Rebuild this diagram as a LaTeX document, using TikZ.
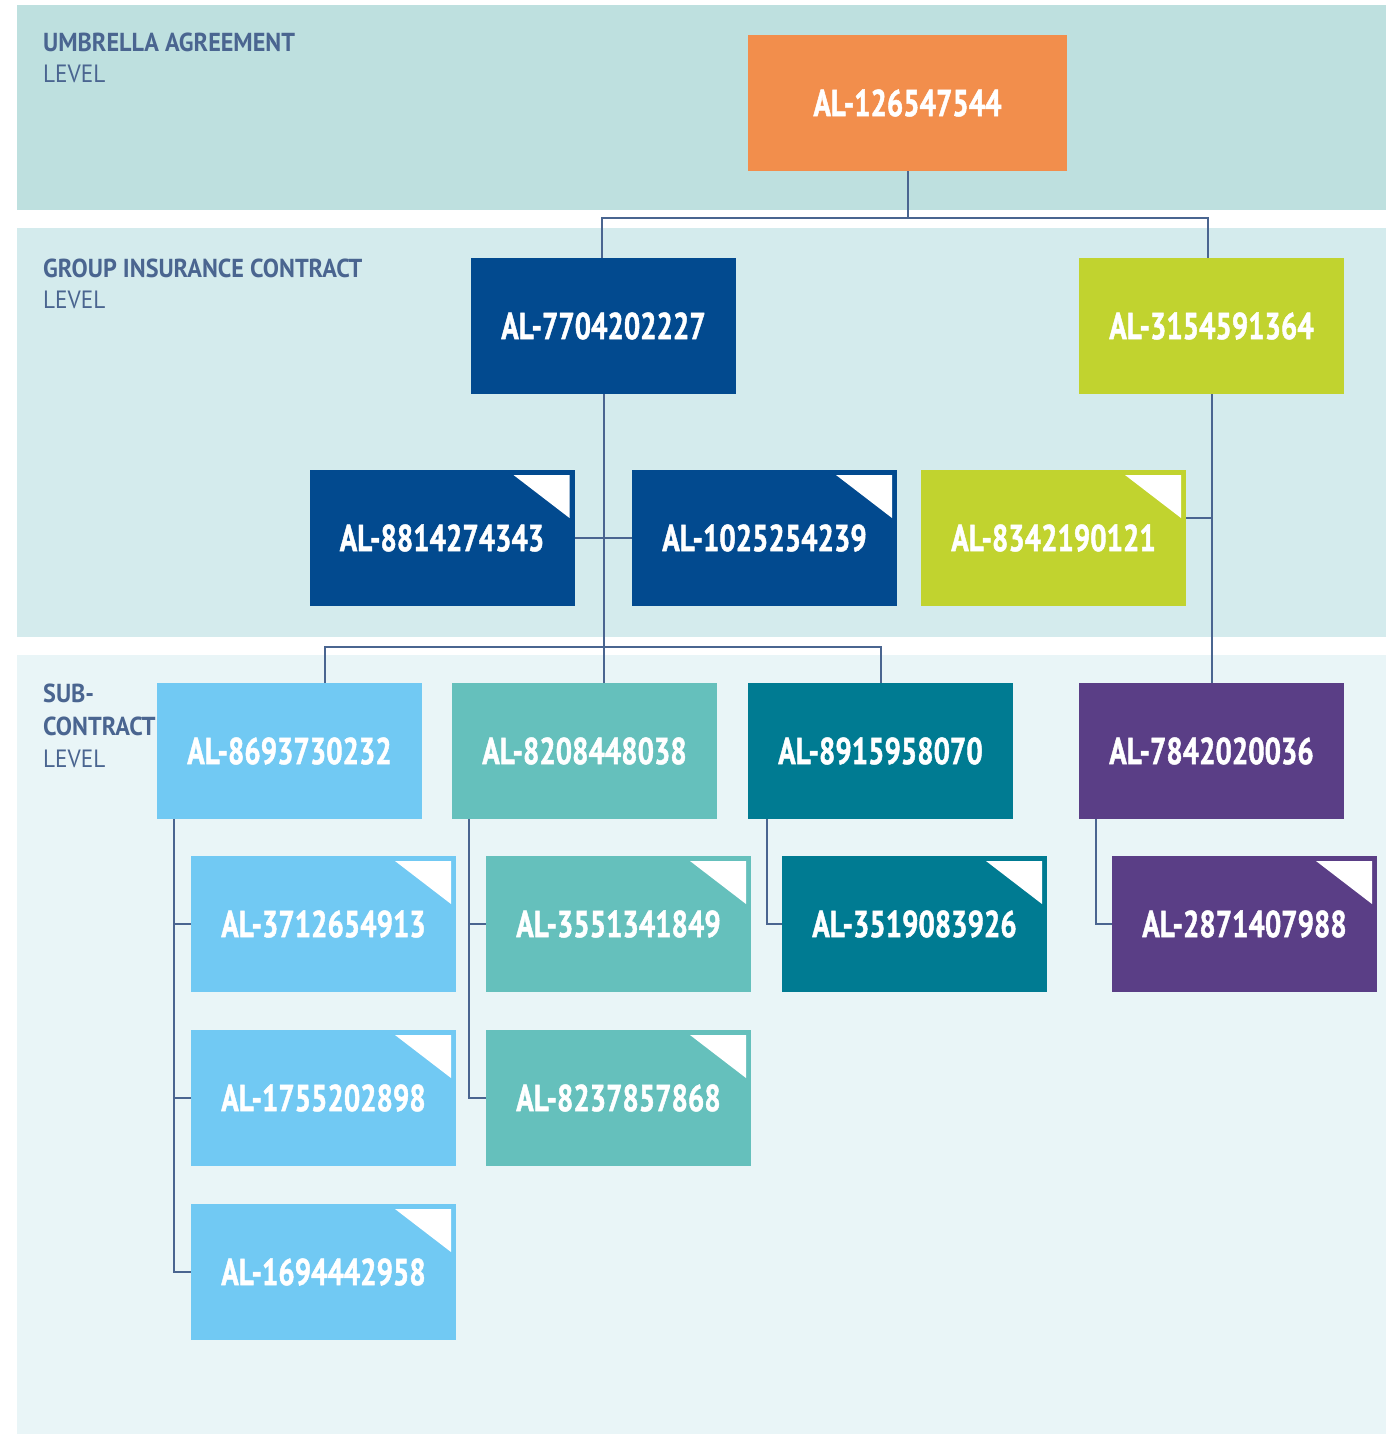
\documentclass[tikz,border=0pt]{standalone}
\usepackage{fontspec}
\setmainfont{PT Sans}
\newfontfamily\nodefont[FakeStretch=0.77,FakeBold=1.2]{PT Sans}
\newfontfamily\lblfont[FakeStretch=0.93]{PT Sans}
\definecolor{bandA}{HTML}{BEE0DF}
\definecolor{bandB}{HTML}{D4EBED}
\definecolor{bandC}{HTML}{E9F5F7}
\definecolor{corange}{HTML}{F28E4C}
\definecolor{cdblue}{HTML}{024A8F}
\definecolor{clime}{HTML}{C1D32F}
\definecolor{clblue}{HTML}{71C9F3}
\definecolor{cteal}{HTML}{65C0BC}
\definecolor{cdteal}{HTML}{007B92}
\definecolor{cpurple}{HTML}{5A3E86}
\definecolor{cline}{HTML}{4A6590}
\begin{document}
\begin{tikzpicture}[x=1pt,y=-1pt,
  box/.style={minimum width=265pt, minimum height=136pt, inner sep=0pt, text=white,
    font=\nodefont\bfseries\fontsize{37.5}{37.5}\selectfont},
  folded/.style={path picture={\fill[white]
    ([xshift=-61pt,yshift=-5pt]path picture bounding box.north east) --
    ([xshift=-5pt,yshift=-5pt]path picture bounding box.north east) --
    ([xshift=-5pt,yshift=-48pt]path picture bounding box.north east) -- cycle;}},
  conn/.style={draw=cline, line width=2pt},
  lblb/.style={anchor=base west, inner sep=0pt, text=cline, font=\lblfont\bfseries\fontsize{26}{26}\selectfont},
  lbl/.style={anchor=base west, inner sep=0pt, text=cline, font=\lblfont\fontsize{25}{25}\selectfont}]
\useasboundingbox (0,0) rectangle (1386,1434);
% bands
\fill[bandA] (17,5) rectangle (1386,210);
\fill[bandB] (17,228) rectangle (1386,637);
\fill[bandC] (17,655) rectangle (1386,1434);
% labels
\node[lblb] (la1) at (43,52) {UMBRELLA AGREEMENT};
\node[lbl] (la2) at (43,83) {LEVEL};
\node[lblb] (lb1) at (43,277) {GROUP INSURANCE CONTRACT};
\node[lbl] (lb2) at (43,308) {LEVEL};
\node[lblb] (lc1) at (43,702) {SUB-};
\node[lblb] (lc2) at (43,735) {CONTRACT};
\node[lbl] (lc3) at (43,767) {LEVEL};
% nodes
\node[box, fill=corange, minimum width=319pt] (top) at (907.5,103) {AL-126547544};
\node[box, fill=cdblue] (n7704) at (603.5,326) {AL-7704202227};
\node[box, fill=clime] (n3154) at (1211.5,326) {AL-3154591364};
\node[box, folded, fill=cdblue] (n8814) at (442,538) {AL-8814274343};
\node[box, folded, fill=cdblue] (n1025) at (764.5,538) {AL-1025254239};
\node[box, folded, fill=clime] (n8342) at (1053.5,538) {AL-8342190121};
\node[box, fill=clblue] (n8693) at (289.5,751) {AL-8693730232};
\node[box, fill=cteal] (n8208) at (584.5,751) {AL-8208448038};
\node[box, fill=cdteal] (n8915) at (880.5,751) {AL-8915958070};
\node[box, fill=cpurple] (n7842) at (1211.5,751) {AL-7842020036};
\node[box, folded, fill=clblue] (n3712) at (323.5,924) {AL-3712654913};
\node[box, folded, fill=cteal] (n3551) at (618.5,924) {AL-3551341849};
\node[box, folded, fill=cdteal] (n3519) at (914.5,924) {AL-3519083926};
\node[box, folded, fill=cpurple] (n2871) at (1244.5,924) {AL-2871407988};
\node[box, folded, fill=clblue] (n1755) at (323.5,1098) {AL-1755202898};
\node[box, folded, fill=cteal] (n8237) at (618.5,1098) {AL-8237857868};
\node[box, folded, fill=clblue] (n1694) at (323.5,1272) {AL-1694442958};
% connectors
\draw[conn] (top.south) -- ++(0,47) -| ([xshift=-1.5pt]n7704.north);
\draw[conn] (top.south) -- ++(0,47) -| ([xshift=-3.5pt]n3154.north);
\draw[conn] (n7704.south) -- (n7704.south |- n8208.north);
\draw[conn] (n8814.east) -- (n1025.west);
\draw[conn] ([xshift=35.5pt]n8693.north) -- ++(0,-36) -| (n8915.north);
\draw[conn] (n3154.south) -- (n7842.north);
\draw[conn] ([yshift=20pt]n8342.east) -- ([yshift=20pt]n8342.east -| n3154.south);
% sub branches
\coordinate (ba) at ([xshift=17pt]n8693.south west);
\draw[conn] (ba) |- (n1694.west);
\draw[conn] (ba |- n3712.west) -- (n3712.west);
\draw[conn] (ba |- n1755.west) -- (n1755.west);
\coordinate (bb) at ([xshift=17pt]n8208.south west);
\draw[conn] (bb) |- (n8237.west);
\draw[conn] (bb |- n3551.west) -- (n3551.west);
\coordinate (bc) at ([xshift=19pt]n8915.south west);
\draw[conn] (bc) |- (n3519.west);
\coordinate (bd) at ([xshift=17pt]n7842.south west);
\draw[conn] (bd) |- (n2871.west);
\end{tikzpicture}
\end{document}
